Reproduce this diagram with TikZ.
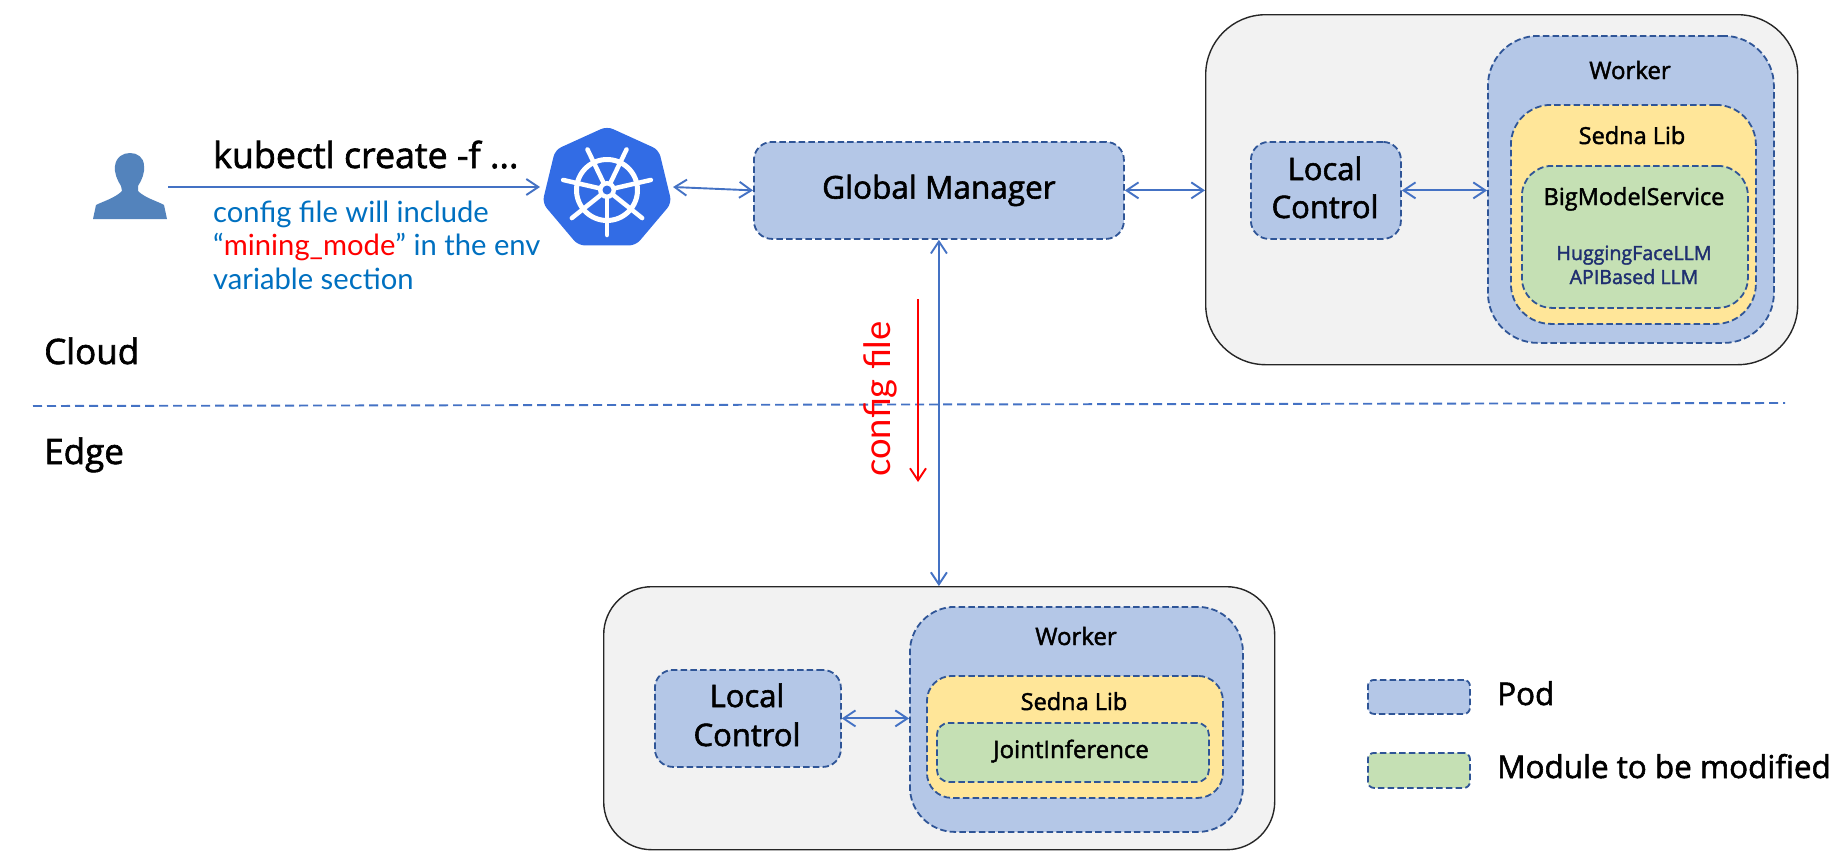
\documentclass[tikz,border=0pt]{standalone}
\usepackage{fontspec}
\usetikzlibrary{arrows.meta,shapes.geometric}
\setmainfont{Open Sans}
\newfontfamily\labfont[FakeBold=1.8]{Open Sans}
\newfontfamily\handfont{Lato}
\definecolor{podblue}{HTML}{B4C7E7}
\definecolor{modyellow}{HTML}{FFE699}
\definecolor{modgreen}{HTML}{C5E0B4}
\definecolor{edgeblue}{HTML}{2F5597}
\definecolor{linkblue}{HTML}{4472C4}
\definecolor{panelgrey}{HTML}{F2F2F2}
\definecolor{kubeblue}{HTML}{326CE5}
\definecolor{userblue}{HTML}{5383BC}
\definecolor{notetext}{HTML}{0070C0}
\definecolor{navytext}{HTML}{1F2F70}
\tikzset{
  x=1pt,y=-1pt,
  box/.style args={#1/#2}{anchor=north west,inner sep=0pt,minimum width=#1,minimum height=#2},
  panel/.style={rounded corners=#1,draw=black!85,line width=1.4pt,fill=panelgrey},
  dashbox/.style={rounded corners=#1,draw=edgeblue,line width=1.8pt,dash pattern=on 6.5pt off 3.2pt},
  pod/.style={dashbox=#1,fill=podblue},
  yellowbox/.style={dashbox=#1,fill=modyellow},
  greenbox/.style={dashbox=#1,fill=modgreen},
  link/.style={draw=linkblue,line width=1.9pt},
  both/.style={link,{Straight Barb[length=12pt,width=16pt]}-{Straight Barb[length=12pt,width=16pt]}},
  lab/.style={font=\labfont\fontsize{#1}{#1}\selectfont,text=black,align=center,inner sep=0pt,anchor=base},
  labl/.style={lab=#1,anchor=base west},
  note/.style={font=\handfont\fontsize{29.2}{29.2}\selectfont,text=notetext,anchor=base west,inner sep=0pt},
}
\begin{document}
\begin{tikzpicture}
\useasboundingbox (0,0) rectangle (1841,865);
% cloud/edge divider
\coordinate (divL) at (33,406);
\coordinate (divR) at (1785,403);
\draw[draw=linkblue,line width=1.9pt,dash pattern=on 9pt off 5pt] (divL) -- (divR);
\node[labl=35] (cloud) at (44,364) {Cloud};
\node[labl=35] (edge) at (44,464) {Edge};

% cloud panel
\node[panel=60,box={592pt/350pt}] (cpanel) at (1205,14) {};
\node[pod=50,box={286pt/307pt}] (cworker) at (1487,35) {};
\node[yellowbox=40,box={245pt/219pt}] (csedna) at (1510,104) {};
\node[greenbox=30,box={226pt/142pt}] (cbig) at (1521,165) {};
\node[lab=24] (cworkerT) at (1630,79) {Worker};
\node[lab=23.5] (csednaT) at (1632,144) {Sedna Lib};
\node[lab=23.5] (cbigT) at (1634,205) {BigModelService};
\node[lab=19.6,text=navytext] (cllmA) at (1634,260) {HuggingFaceLLM};
\node[lab=19.6,text=navytext] (cllmB) at (1634,284) {APIBased LLM};
\node[pod=18,box={150pt/97pt}] (clocal) at (1250,141) {};
\node[lab=31] (clocalA) at (1325,180) {Local};
\node[lab=31] (clocalB) at (1325,218) {Control};

% global manager
\node[pod=18,box={370pt/97pt},font=\labfont\fontsize{31.5}{31.5}\selectfont,text=black] (gm) at (753,141) {Global Manager};

% kubernetes
\begin{scope}[shift={(607,189)},xscale=1.06]
\node[regular polygon,regular polygon sides=7,minimum size=122pt,inner sep=0pt,fill=kubeblue,draw=kubeblue,line width=3pt,rounded corners=6pt,transform shape] (k8s) at (0,0) {};
\end{scope}
\coordinate (wheel) at (607,190);
\foreach \a in {90,141.4,192.9,244.3,295.7,347.1,38.6}
  \draw[white,line width=4.5pt,line cap=round] (wheel) -- ++(\a:45);
\draw[white,line width=5pt] (wheel) circle[radius=30.5];
\fill[white] (wheel) circle[radius=9];
\fill[kubeblue] (wheel) circle[radius=4.5];

% user
\coordinate (user) at (168,187);
\coordinate (userEnd) at (540,187);
\fill[userblue] (93,219) -- (96,205) .. controls (104,201) and (115,198) .. (122,191) -- (121,186)
  .. controls (117,180) and (114,172) .. (115,166) .. controls (116,157) and (123,153) .. (130,153)
  .. controls (137,153) and (144,157) .. (144,166) .. controls (145,172) and (142,180) .. (138,186)
  -- (138,191) .. controls (145,198) and (157,201) .. (164,205) -- (167,219) -- cycle;

% command text
\node[labl=35.8] (cmd) at (213,168) {kubectl create -f ...};
\node[note] (n1) at (213,222) {config file will include};
\node[note] (n2) at (213,255) {“\textcolor{red}{mining\_mode}” in the env};
\node[note] (n3) at (213,289) {variable section};

% edge panel
\node[panel=48,box={671pt/263pt}] (epanel) at (603,586) {};
\node[pod=45,box={333pt/225pt}] (eworker) at (909,606) {};
\node[yellowbox=25,box={296pt/122pt}] (esedna) at (926,675) {};
\node[greenbox=12,box={272pt/59pt}] (ejoint) at (936,722) {};
\node[lab=24] (eworkerT) at (1076,645) {Worker};
\node[lab=23.5] (esednaT) at (1074,710) {Sedna Lib};
\node[lab=24] (ejointT) at (1071,758) {JointInference};
\node[pod=18,box={186pt/97pt}] (elocal) at (654,669) {};
\node[lab=31] (elocalA) at (747,707) {Local};
\node[lab=31] (elocalB) at (747,746) {Control};

% legend
\node[pod=6,box={102pt/34pt}] (legpod) at (1367,679) {};
\node[greenbox=6,box={102pt/35pt}] (legmod) at (1367,752) {};
\node[labl=31.4] (legpodT) at (1497,705) {Pod};
\node[labl=31.4] (legmodT) at (1497,778) {Module to be modified};

% connectors
\draw[link,-{Straight Barb[length=12pt,width=16pt]}] (user) -- (userEnd);
\coordinate (kR) at (673,187);
\draw[both] (kR) -- (gm.west);
\draw[both] (gm.east) -- (cpanel.west |- gm.east);
\draw[both] (clocal.east) -- (cworker.west |- clocal.east);
\draw[both] (gm.south) -- (gm.south |- epanel.north);
\draw[both] (elocal.east) -- (eworker.west |- elocal.east);

% config file
\coordinate (redA) at (918,299);
\coordinate (redB) at (918,482);
\draw[red,line width=1.9pt,-{Straight Barb[length=12pt,width=16pt]}] (redA) -- (redB);
\node[font=\handfont\fontsize{36.4}{36.4}\selectfont,text=red,rotate=90,inner sep=0pt,anchor=base] (cfg) at (890,399) {config file};
\end{tikzpicture}
\end{document}
